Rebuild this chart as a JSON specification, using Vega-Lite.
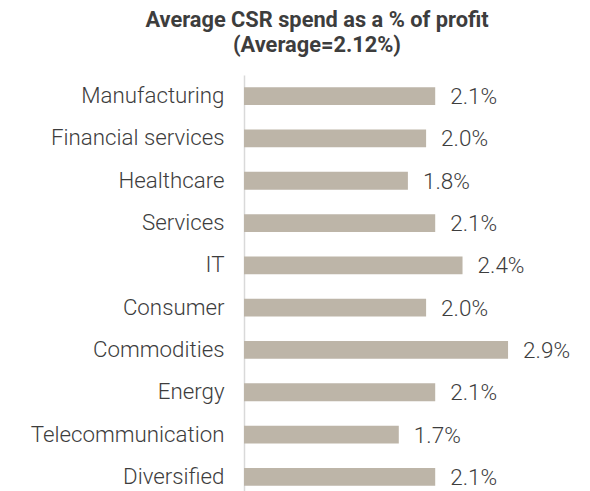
{
  "$schema": "https://vega.github.io/schema/vega-lite/v6.json",
  "autosize": "none",
  "padding": {"left": 244, "top": 75, "right": 0, "bottom": 0},
  "width": 346,
  "height": 423,
  "background": "white",
  "title": {
    "text": ["Average CSR spend as a % of profit", "(Average=2.12%)"],
    "font": "Roboto",
    "fontSize": 21.8,
    "fontWeight": "bold",
    "color": "#3d3d3d",
    "lineHeight": 25,
    "anchor": "middle",
    "dx": -100,
    "offset": 18
  },
  "data": {
    "values": [
      {"sector": "Manufacturing", "share": 0.021},
      {"sector": "Financial services", "share": 0.020},
      {"sector": "Healthcare", "share": 0.018},
      {"sector": "Services", "share": 0.021},
      {"sector": "IT", "share": 0.024},
      {"sector": "Consumer", "share": 0.020},
      {"sector": "Commodities", "share": 0.029},
      {"sector": "Energy", "share": 0.021},
      {"sector": "Telecommunication", "share": 0.017},
      {"sector": "Diversified", "share": 0.021}
    ]
  },
  "encoding": {
    "y": {
      "field": "sector",
      "type": "nominal",
      "sort": null,
      "scale": {"paddingInner": 0.58, "paddingOuter": 0.29},
      "axis": {
        "title": null,
        "ticks": false,
        "labelPadding": 20,
        "labelFont": "Roboto",
        "labelFontSize": 22.3,
        "labelFontWeight": 300,
        "labelColor": "#3d3d3d",
        "labelLimit": 300,
        "domainColor": "#d9d9d9",
        "domainWidth": 1.5
      }
    },
    "x": {
      "field": "share",
      "type": "quantitative",
      "scale": {"domain": [0, 0.038], "nice": false},
      "axis": null
    }
  },
  "layer": [
    {"mark": {"type": "bar", "color": "#bdb5a8"}},
    {
      "mark": {"type": "text", "align": "left", "baseline": "middle", "dx": 15, "dy": 1, "font": "Roboto", "fontSize": 22.5, "fontWeight": 300, "color": "#3d3d3d"},
      "encoding": {"text": {"field": "share", "type": "quantitative", "format": ".1%"}}
    }
  ],
  "config": {"view": {"stroke": null}}
}
